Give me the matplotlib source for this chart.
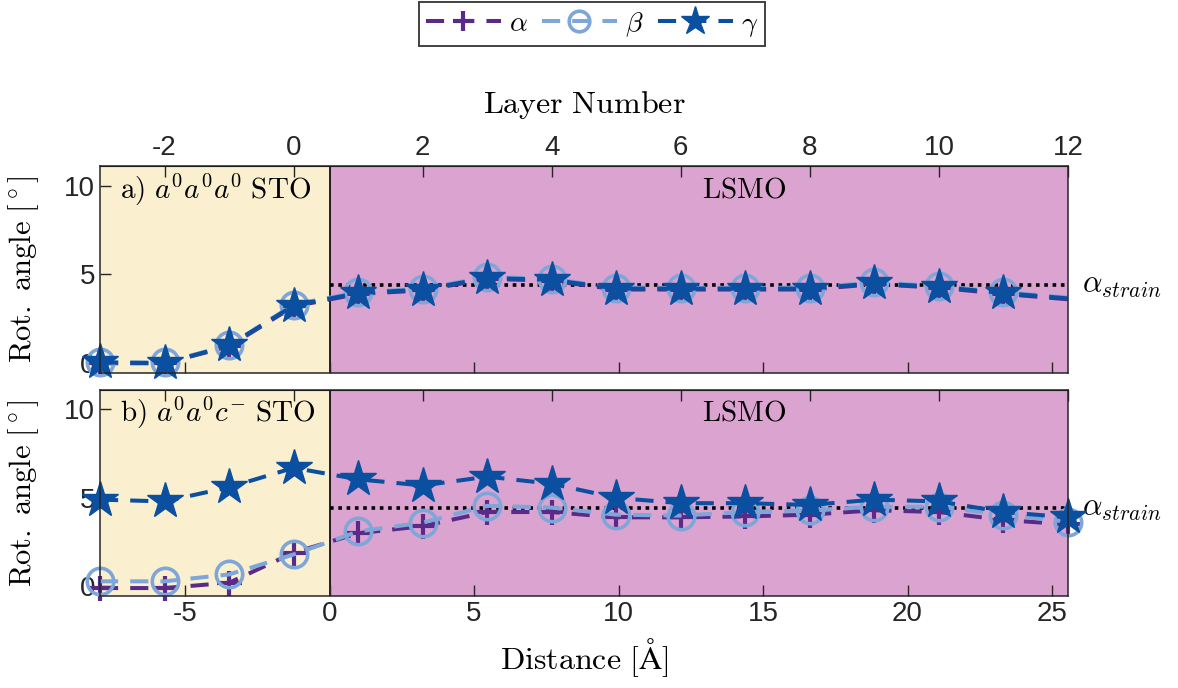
import numpy as np
import matplotlib
matplotlib.use("Agg")
import matplotlib.pyplot as plt

# ---------------- data ----------------
layers = np.arange(-3, 13)          # layer numbers -3 .. 12
LAYER_SPACING = 2.233               # Angstrom per layer
LAYER0_DIST = -1.245                # distance of layer 0 [A]
alpha_strain = 4.4

alpha_a = [0.0, 0.0, 0.95, 3.2, 3.9, 4.1, 4.75, 4.65, 4.15, 4.15, 4.15, 4.15, 4.45, 4.25, 3.9, 3.6]
beta_a  = [0.05, 0.05, 1.0, 3.3, 4.0, 4.2, 4.85, 4.75, 4.25, 4.25, 4.25, 4.25, 4.55, 4.35, 4.0, 3.7]
gamma_a = [0.05, 0.0, 1.0, 3.25, 3.95, 4.15, 4.8, 4.7, 4.2, 4.2, 4.2, 4.2, 4.5, 4.3, 3.95, 3.65]

alpha_b = [-0.1, -0.1, 0.2, 1.9, 3.0, 3.4, 4.2, 4.2, 3.9, 3.9, 3.95, 4.05, 4.3, 4.2, 3.75, 3.5]
beta_b  = [0.28, 0.28, 0.67, 1.8, 3.1, 3.6, 4.55, 4.45, 4.05, 4.0, 4.2, 4.3, 4.5, 4.5, 4.05, 3.65]
gamma_b = [4.9, 4.8, 5.6, 6.7, 6.05, 5.7, 6.2, 5.8, 5.0, 4.7, 4.7, 4.6, 4.9, 4.8, 4.2, 3.9]

layer_ticks = [-2, 0, 2, 4, 6, 8, 10, 12]
dist_ticks = [-5, 0, 5, 10, 15, 20, 25]
y_ticks = [0, 5, 10]

panel_texts = [r"$\mathrm{a)}\ a^0a^0a^0\ \mathrm{STO}$", r"$\mathrm{b)}\ a^0a^0c^{-}\ \mathrm{STO}$"]

# ---------------- style ----------------
plt.rcParams["mathtext.fontset"] = "cm"
plt.rcParams["axes.unicode_minus"] = False
TICK_FONT = "Liberation Sans"
DARK = "#262626"
C_ALPHA = "#5a2a88"
C_BETA = "#7fa6d8"
C_GAMMA = "#0a4fa0"
C_STO = "#faefcf"
C_LSMO = "#dba3cf"


def l2d(n):
    return LAYER0_DIST + LAYER_SPACING * np.asarray(n, dtype=float)


def d2l(d):
    return (np.asarray(d, dtype=float) - LAYER0_DIST) / LAYER_SPACING


fig = plt.figure(figsize=(11.78, 6.88), dpi=100)
ax_a = fig.add_axes([0.0849, 0.4578, 0.8217, 0.3009])
ax_b = fig.add_axes([0.0849, 0.1337, 0.8217, 0.2994])

x = l2d(layers)
xmin, xmax = l2d(-3), l2d(12)
ls = (0, (4.5, 3.0))
lw = 2.9

for i, (ax, a, b, g) in enumerate([(ax_a, alpha_a, beta_a, gamma_a),
                                   (ax_b, alpha_b, beta_b, gamma_b)]):
    ax.set_xlim(xmin, xmax)
    ax.set_ylim(-0.55, 11.1)
    ax.axvspan(xmin, 0, color=C_STO, zorder=0, lw=0)
    ax.axvspan(0, xmax, color=C_LSMO, zorder=0, lw=0)
    ax.axvline(0, color="black", lw=1.2, zorder=1)
    ax.plot([0, xmax], [alpha_strain, alpha_strain], color="black",
            lw=2.6, linestyle=(0, (1, 1.3)), zorder=2)

    me = list(range(len(layers) - 1)) if i == 0 else None
    ax.plot(x, a, color=C_ALPHA, lw=lw, linestyle=ls, marker="+", ms=18, mew=3,
            markevery=me, clip_on=False, zorder=3, label=r"$\alpha$")
    ax.plot(x, b, color=C_BETA, lw=lw, linestyle=ls, marker="o", ms=19, mew=2.6,
            mfc="none", markevery=me, clip_on=False, zorder=4, label=r"$\beta$")
    ax.plot(x, g, color=C_GAMMA, lw=lw, linestyle=ls, marker="*", ms=27, mew=1,
            markevery=me, clip_on=False, zorder=5, label=r"$\gamma$")

    ax.text(1.014, alpha_strain, r"$\alpha_{strain}$", fontsize=22,
            transform=ax.get_yaxis_transform(), ha="left", va="center")
    ax.text(0.021, 0.885 if i == 0 else 0.89, panel_texts[i], fontsize=21,
            transform=ax.transAxes, ha="left", va="center")
    ax.text(0.665, 0.885 if i == 0 else 0.89, r"$\mathrm{LSMO}$", fontsize=21,
            transform=ax.transAxes, ha="center", va="center")

    ax.set_xticks(dist_ticks)
    ax.set_yticks(y_ticks)
    ax.tick_params(axis="both", direction="in", length=8, width=1, color=DARK,
                   labelsize=20, labelcolor=DARK)
    for lab in ax.get_xticklabels() + ax.get_yticklabels():
        lab.set_fontfamily(TICK_FONT)
    if i == 0:
        ax.tick_params(axis="x", labelbottom=False)
    for sp in ax.spines.values():
        sp.set_color(DARK)
        sp.set_linewidth(1.1)
        sp.set_zorder(6)

    sec = ax.secondary_xaxis("top", functions=(d2l, l2d))
    sec.set_xticks(layer_ticks)
    sec.tick_params(axis="x", direction="in", length=8, width=1, color=DARK,
                    labelsize=20, labelcolor=DARK, labeltop=(i == 0))
    for lab in sec.get_xticklabels():
        lab.set_fontfamily(TICK_FONT)
    if i == 0:
        sec.set_xlabel(r"$\mathrm{Layer\ Number}$", fontsize=23, labelpad=16)
    ax.set_ylabel(r"$\mathrm{Rot.\ angle\ [^\circ]}$", fontsize=22)
    ax.yaxis.set_label_coords(-0.061, 0.5)

ax_b.set_xlabel(r"$\mathrm{Distance\ [\AA]}$", fontsize=23, labelpad=7)

handles, labels = ax_b.get_legend_handles_labels()
leg = fig.legend(handles, labels, loc="center", bbox_to_anchor=(0.5025, 0.965),
                 ncol=3, fontsize=20, handlelength=2.7, handletextpad=0.3,
                 columnspacing=0.5, markerscale=0.78, fancybox=False,
                 frameon=True, borderpad=0.25, borderaxespad=0)
leg.get_frame().set_edgecolor("black")
leg.get_frame().set_linewidth(1.3)

fig.savefig("out.png", dpi=100)
